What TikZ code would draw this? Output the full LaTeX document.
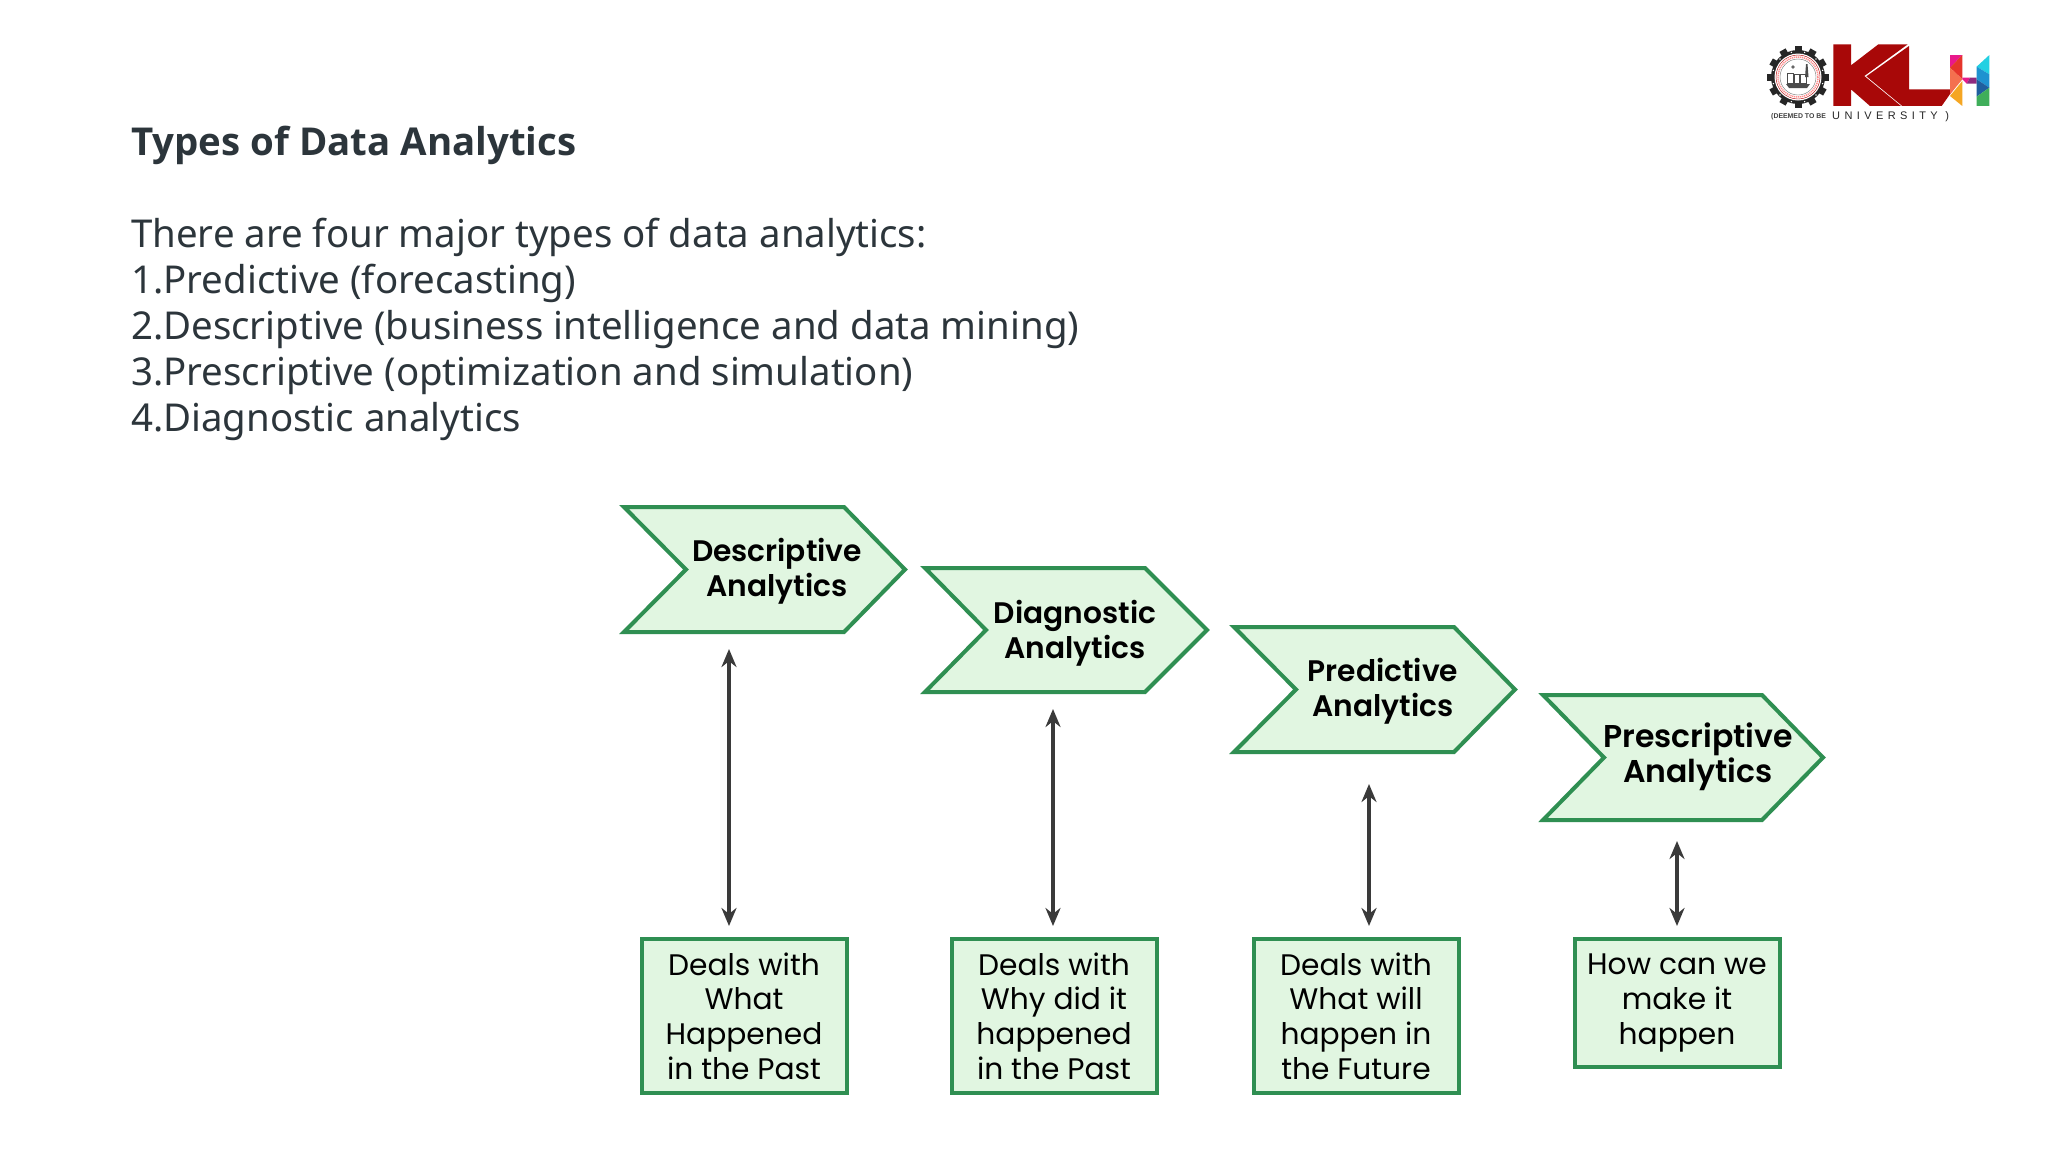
\documentclass[tikz,border=0pt]{standalone}
\usepackage{fontspec}
\usetikzlibrary{arrows.meta}
\setmainfont{Noto Sans}
\newfontfamily\titlefont{Open Sans}
\newfontfamily\chevfont{Poppins}
\newfontfamily\chevbold{Poppins SemiBold}
\newfontfamily\logofont{Liberation Sans}[LetterSpace=40]
\newfontfamily\logosmall{Liberation Sans}
\definecolor{gline}{HTML}{2F8F52}
\definecolor{gfill}{HTML}{E1F6E1}
\definecolor{inktext}{HTML}{2C353B}
\definecolor{arrowink}{HTML}{3A3A3A}
\definecolor{klred}{HTML}{A80808}
\definecolor{hpink}{HTML}{E8198B}
\definecolor{hred}{HTML}{E5352B}
\definecolor{hcoral}{HTML}{F4704F}
\definecolor{horange}{HTML}{F5A623}
\definecolor{hcyan}{HTML}{22D0E2}
\definecolor{hblue}{HTML}{1E92D0}
\definecolor{hnavy}{HTML}{1F5F9E}
\definecolor{hgreen}{HTML}{3FAE5A}
\definecolor{hpurple}{HTML}{8E2A7E}
\tikzset{
  chevron/.style={draw=gline,fill=gfill,line width=4pt,miter limit=10},
  chevtext/.style={align=center,text=black,inner sep=0pt,font=\chevbold\fontsize{29.7}{35}\selectfont},
  infobox/.style={draw=gline,fill=gfill,line width=4pt,minimum width=205pt,text=black,inner sep=0pt,align=center,font=\chevfont\fontsize{29.7}{34.6}\selectfont},
  span/.style={draw=arrowink,line width=3.2pt,{Stealth[length=18pt,width=15pt]}-{Stealth[length=18pt,width=15pt]}},
  bodytext/.style={anchor=west,inner sep=0pt,text=inktext},
}
\newcommand{\chevronshape}[6]{% left topright tip notch top bottom
  \draw[chevron] (#1,#5) -- (#2,#5) -- (#3,{(#5+#6)/2}) -- (#2,#6) -- (#1,#6) -- (#4,{(#5+#6)/2}) -- cycle;
}
\begin{document}
\begin{tikzpicture}[x=1pt,y=-1pt]
\useasboundingbox[fill=white] (0,0) rectangle (2048,1152);

% heading and list
\node[bodytext,font=\titlefont\bfseries\fontsize{38.4}{46}\selectfont] (title) at (131,145) {Types of Data Analytics};
\node[bodytext,font=\fontsize{38.4}{46}\selectfont] (l0) at (131,237) {There are four major types of data analytics:};
\node[bodytext,font=\fontsize{38.4}{46}\selectfont] (l1) at (131,283) {1.Predictive (forecasting)};
\node[bodytext,font=\fontsize{38.4}{46}\selectfont] (l2) at (131,330) {2.Descriptive (business intelligence and data mining)};
\node[bodytext,font=\fontsize{38.4}{46}\selectfont] (l3) at (131,376) {3.Prescriptive (optimization and simulation)};
\node[bodytext,font=\fontsize{38.4}{46}\selectfont] (l4) at (131,422) {4.Diagnostic analytics};

% chevrons
\chevronshape{624}{844}{905}{686}{507}{632}
\chevronshape{925}{1145}{1207}{986}{568}{692}
\chevronshape{1234}{1454}{1515}{1296}{627}{752}
\chevronshape{1543}{1762}{1823}{1604}{695}{820}
\node[chevtext] (c1t) at (777,571.5) {Descriptive\\Analytics};
\node[chevtext] (c2t) at (1075,633.5) {Diagnostic\\Analytics};
\node[chevtext] (c3t) at (1383,691.5) {Predictive\\Analytics};
\node[chevtext,font=\chevbold\fontsize{31.5}{35}\selectfont] (c4t) at (1698,756.5) {Prescriptive\\Analytics};

% boxes
\node[infobox,minimum height=154pt] (b1) at (744,1016) {Deals with\\What\\Happened\\in the Past};
\node[infobox,minimum height=154pt] (b2) at (1054,1016) {Deals with\\Why did it\\happened\\in the Past};
\node[infobox,minimum height=154pt] (b3) at (1356,1016) {Deals with\\What will\\happen in\\the Future};
\node[infobox,minimum height=128pt] (b4) at (1677,1003) {How can we\\make it\\happen};

% double-headed arrows
\coordinate (a1t) at (729,649); \coordinate (a1b) at (729,926);
\coordinate (a2t) at (1053,709); \coordinate (a2b) at (1053,926);
\coordinate (a3t) at (1369,784); \coordinate (a3b) at (1369,926);
\coordinate (a4t) at (1677,841); \coordinate (a4b) at (1677,926);
\draw[span] (a1t) -- (a1b);
\draw[span] (a2t) -- (a2b);
\draw[span] (a3t) -- (a3b);
\draw[span] (a4t) -- (a4b);

% logo: KL and H, in crop coordinates
\begin{scope}[shift={(1825,36)},x=0.3333pt,y=-0.3333pt]
\fill[klred] (25,25) -- (78,25) -- (78,88) -- (160,25) -- (248,25) -- (118,120) -- (228,210) -- (135,210) -- (78,160) -- (78,210) -- (25,210) -- cycle;
\fill[klred] (252,30) -- (252,160) -- (385,160) -- (350,210) -- (232,210) -- (124,121) -- cycle;
\fill[hpink] (375,57) -- (412,57) -- (375,95) -- cycle;
\fill[hred] (412,57) -- (412,130) -- (375,95) -- cycle;
\fill[hcoral] (375,95) -- (412,130) -- (375,175) -- cycle;
\fill[horange] (375,180) -- (412,135) -- (412,210) -- cycle;
\fill[hpink] (412,125) -- (435,125) -- (425,143) -- (412,130) -- cycle;
\fill[hpurple] (425,143) -- (435,125) -- (455,125) -- (455,143) -- cycle;
\fill[hcyan] (493,57) -- (493,115) -- (455,92) -- cycle;
\fill[hblue] (455,92) -- (493,115) -- (493,155) -- (455,130) -- cycle;
\fill[hnavy] (455,130) -- (493,155) -- (455,182) -- cycle;
\fill[hgreen] (455,182) -- (493,155) -- (493,210) -- (455,210) -- cycle;
\end{scope}
\node[inner sep=0pt,anchor=west,text=black!85] (uni) at (1832,116.5) {\logofont\fontsize{11}{13}\selectfont UNIVERSITY )};
\node[inner sep=0pt,anchor=west,text=black!75] (deemed) at (1771,116.5) {\logosmall\bfseries\fontsize{6.9}{8}\selectfont (DEEMED TO BE};

% logo: gear emblem
\begin{scope}[shift={(1798,77)}]
\fill[black!85] (0,0) circle (27);
\foreach \a in {0,30,...,330}{
  \fill[black!85,rotate=\a] (-3.5,-31) rectangle (3.5,-24);
  \fill[white,rotate=\a+15] (0,-25.5) circle (0.8);
}
\fill[white] (0,0) circle (23.5);
\draw[red!70!black,line width=0.4pt] (0,0) circle (22);
\draw[red!45,line width=1.5pt,dash pattern=on 1.2pt off 0.8pt] (0,0) circle (20);
\draw[black!55,line width=0.4pt] (0,0) circle (18);
\fill[black!70] (-12,7) -- (12,7) -- (9,11) -- (-9,11) -- cycle;
\draw[black!70,line width=0.5pt] (-11,-4) rectangle (-5,6);
\draw[black!70,line width=0.5pt] (-4,-3) rectangle (1,6);
\draw[black!70,line width=0.5pt] (2,-3) rectangle (8,6);
\fill[black!70] (8,-13) -- (9.5,-13) -- (10.5,0) -- (7,0) -- cycle;
\fill[black!60] (-5,-10) circle (1.8);
\end{scope}
\end{tikzpicture}
\end{document}
